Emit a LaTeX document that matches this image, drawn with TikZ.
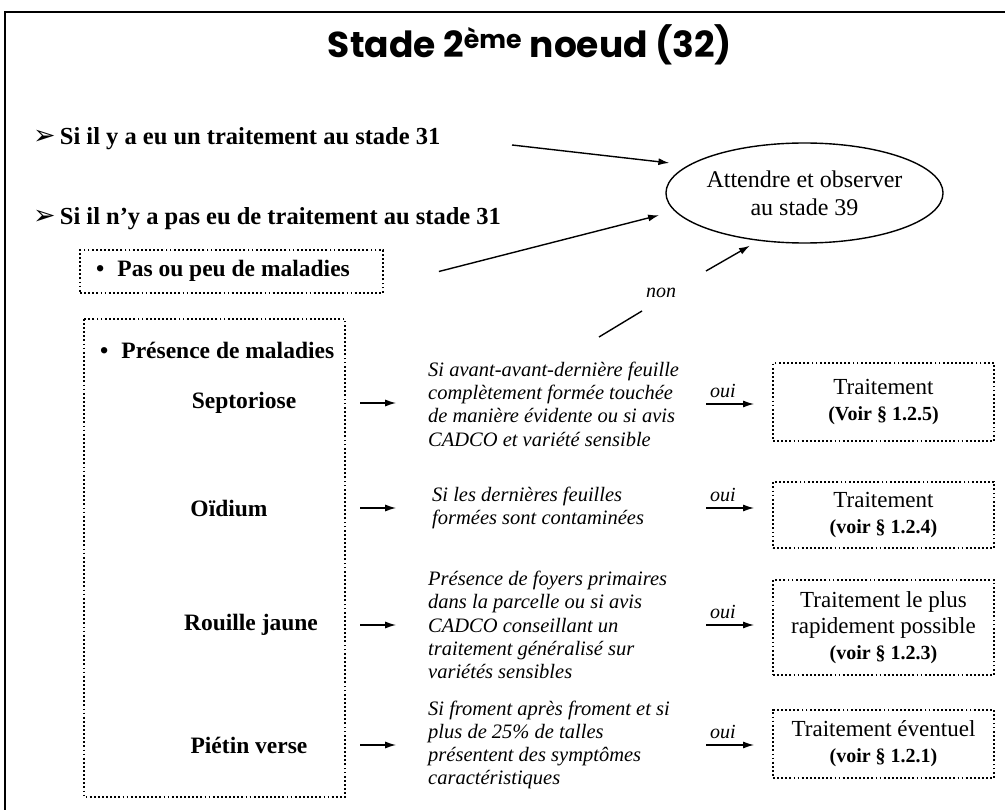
\documentclass[tikz,border=0pt]{standalone}
\usepackage{fontspec}
\setmainfont{Liberation Serif}
\newfontfamily\dvfont{DejaVu Sans}
\newfontfamily\ttlfont{Poppins}
\usetikzlibrary{arrows.meta,shapes.geometric}
\newcommand{\fs}[2]{\fontsize{#1}{#2}\selectfont}
\newcommand{\subf}{\fs{20}{25}\bfseries}
\newcommand{\harr}{{\dvfont\fs{27}{28}\char"27A2}}
\begin{document}
\begin{tikzpicture}[x=1pt,y=-1pt,
  arr/.style={line width=1.4pt,-{Latex[length=11pt,width=7pt]}},
  plain/.style={line width=1.4pt},
  dotbox/.style={draw,line width=1.8pt,dash pattern=on 1.8pt off 2.3pt},
  hdr/.style={font=\fs{24.5}{28}\bfseries,inner sep=0pt,anchor=west},
  dis/.style={font=\fs{23.5}{27}\bfseries,inner sep=0pt},
  cond/.style={font=\fs{20.5}{23.3}\itshape,inner sep=0pt,anchor=west,align=left},
  tbox/.style={dotbox,minimum width=221pt,inner sep=0pt,align=center,font=\fs{23}{26}},
  lbl/.style={font=\fs{20}{23}\itshape,inner sep=1pt}]
\useasboundingbox (0,0) rectangle (1005,810);
\draw[line width=1.2pt] (5,12) rectangle (1015,820);
% title
\node[font=\ttlfont\bfseries\fs{36}{40}] (title) at (530,45) {Stade 2\textsuperscript{ème} noeud (32)};
% headers
\node[hdr] (q1) at (33,139) {\harr\,Si il y a eu un traitement au stade 31};
\node[hdr] (q2) at (33,219) {\harr\,Si il n’y a pas eu de traitement au stade 31};
% ellipse
\node[ellipse,draw,line width=1.4pt,minimum width=257pt,minimum height=100pt,inner sep=0pt,align=center,font=\fs{24}{28}] (att) at (804.5,193) {Attendre et observer\\au stade 39};
% pas ou peu box
\node[dotbox,minimum width=303pt,minimum height=43pt,inner sep=0pt] (peu) at (231.5,271.5) {};
\node[font=\fs{23.5}{27}\bfseries,inner sep=0pt,anchor=west] (peut) at (96,271) {•\hspace{13pt}Pas ou peu de maladies};
% big box
\draw[dotbox] (84,319) rectangle (345,797);
\node[inner sep=0pt,minimum width=261pt,minimum height=478pt] (big) at (214.5,558) {};
\node[font=\fs{23.5}{27}\bfseries,inner sep=0pt,anchor=west] (pres) at (100,350) {•\hspace{13pt}Présence de maladies};
% diseases
\node[dis] (sept) at (244,403) {Septoriose};
\node[dis] (oid) at (229,508) {Oïdium};
\node[dis] (rou) at (251,625) {Rouille jaune};
\node[dis] (pie) at (249,745) {Piétin verse};
\foreach \d in {sept,oid,rou,pie}
  \draw[arr] (big.east |- \d) ++(15,0) -- ++(36,0);
% conditions
\node[cond] (c1) at (428,404) {Si avant-avant-dernière feuille\\complètement formée touchée\\de manière évidente ou si avis\\CADCO et variété sensible};
\node[cond] (c2) at (432,508) {Si les dernières feuilles\\formées sont contaminées};
\node[cond] (c3) at (428,625) {Présence de foyers primaires\\dans la parcelle ou si avis\\CADCO conseillant un\\traitement généralisé sur\\variétés sensibles};
\node[cond] (c4) at (428,745) {Si froment après froment et si\\plus de 25\% de talles\\présentent des symptômes\\caractéristiques};
% treatment boxes
\node[tbox,minimum height=78pt] (t1) at (883.5,402) {Traitement\\{\subf(Voir § 1.2.5)}};
\node[tbox,minimum height=66pt] (t2) at (883.5,515) {Traitement\\{\subf(voir § 1.2.4)}};
\node[tbox,minimum height=95pt] (t3) at (883.5,627.5) {Traitement le plus\\rapidement possible\\{\subf(voir § 1.2.3)}};
\node[tbox,minimum height=68pt] (t4) at (883.5,744) {Traitement éventuel\\{\subf(voir § 1.2.1)}};
% oui arrows
\draw[arr] (t1.west |- c1) ++(-66,0) -- ++(48,0) node[lbl,pos=0.35,above=5pt] {oui};
\draw[arr] (t2.west |- c2) ++(-66,0) -- ++(48,0) node[lbl,pos=0.35,above=5pt] {oui};
\draw[arr] (t3.west |- c3) ++(-66,0) -- ++(48,0) node[lbl,pos=0.35,above=5pt] {oui};
\draw[arr] (t4.west |- c4) ++(-66,0) -- ++(48,0) node[lbl,pos=0.35,above=5pt] {oui};
% arrows to ellipse
\coordinate (q1e) at (512,145);
\draw[arr] (q1e) -- ([xshift=-23pt]att.165);
\draw[arr,shorten >=16pt] ([xshift=55pt]peu.east) -- (att.188);
\node[lbl] (non) at (661,293) {non};
\coordinate (n0) at (599,337);
\draw[plain] (n0) -- ([shift={(-19,18)}]non.center);
\draw[arr] ([shift={(45,-22)}]non.center) -- ([shift={(-54.5,2)}]att.south);
\end{tikzpicture}
\end{document}
